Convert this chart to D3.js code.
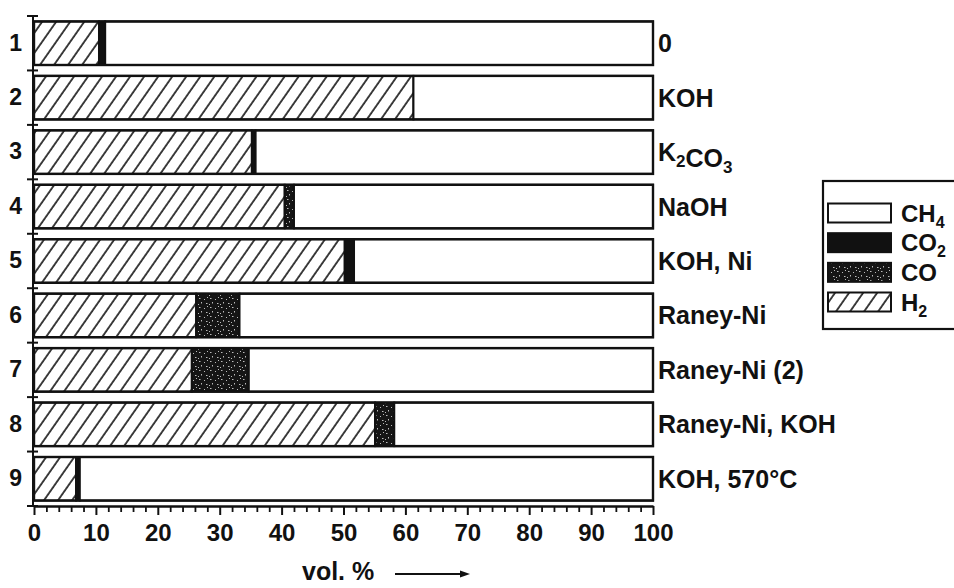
<!DOCTYPE html>
<html>
<head>
<meta charset="utf-8">
<script src="https://cdn.jsdelivr.net/npm/d3@7"></script>
<style>
  html, body { margin: 0; padding: 0; background: #fff; }
  svg { display: block; font-family: "Liberation Sans", Arial, Helvetica, sans-serif; }
</style>
</head>
<body>
<svg id="chart" width="954" height="588"></svg>
<script>
// Experiment numbers (rows, top to bottom)
const categories = ["1", "2", "3", "4", "5", "6", "7", "8", "9"];
// Additive / catalyst used in each run ("_" marks a subscript digit)
const conditions = ["0", "KOH", "K_2CO_3", "NaOH", "KOH, Ni", "Raney-Ni", "Raney-Ni (2)", "Raney-Ni, KOH", "KOH, 570°C"];

// Gas composition, vol. %
const h2  = [10.5, 61.3, 35.2, 40.5, 50.2, 26.2, 25.5, 55.1, 6.8];
const co  = [0.0, 0.0, 0.0, 1.5, 0.0, 7.0, 9.2, 3.1, 0.0];
const co2 = [1.0, 0.0, 0.6, 0.0, 1.5, 0.0, 0.0, 0.0, 0.6];
const ch4 = [88.5, 38.7, 64.2, 58.0, 48.3, 66.8, 65.3, 41.8, 92.6];

// Axis ticks
const majorTicks = [0, 10, 20, 30, 40, 50, 60, 70, 80, 90, 100];
const minorTicks = [2, 4, 6, 8, 12, 14, 16, 18, 22, 24, 26, 28, 32, 34, 36, 38, 42, 44, 46, 48,
                    52, 54, 56, 58, 62, 64, 66, 68, 72, 74, 76, 78, 82, 84, 86, 88, 92, 94, 96, 98];

// Series in stacking order (left to right); legend lists them in reverse
const seriesKeys = ["H2", "CO", "CO2", "CH4"];
const seriesValues = { H2: h2, CO: co, CO2: co2, CH4: ch4 };
const legendLabels = { CH4: ["CH", "4"], CO2: ["CO", "2"], CO: ["CO", ""], H2: ["H", "2"] };

const svg = d3.select("#chart");

// ---- fills: hatch for H2, speckled dark for CO ----
const defs = svg.append("defs");
const hatch = defs.append("pattern")
  .attr("id", "hatch")
  .attr("patternUnits", "userSpaceOnUse")
  .attr("width", 11.5).attr("height", 20)
  .attr("patternTransform", "rotate(35)");
hatch.append("rect").attr("width", 11.5).attr("height", 20).attr("fill", "#fff");
hatch.append("line").attr("x1", 1).attr("y1", 0).attr("x2", 1).attr("y2", 20)
  .attr("stroke", "#111").attr("stroke-width", 1.6);

const speck = defs.append("pattern")
  .attr("id", "speck")
  .attr("patternUnits", "userSpaceOnUse")
  .attr("width", 11).attr("height", 9);
speck.append("rect").attr("width", 11).attr("height", 9).attr("fill", "#151515");
[[1, 1, 1.5, 1], [6, 2, 1, 1], [3, 5, 1, 1.5], [8, 6, 1.5, 1], [0, 7, 1, 1], [9, 0, 1, 1]]
  .forEach(([sx, sy, sw, sh]) => {
    speck.append("rect").attr("x", sx).attr("y", sy).attr("width", sw).attr("height", sh).attr("fill", "#bbb");
  });

const fills = { H2: "url(#hatch)", CO: "url(#speck)", CO2: "#111", CH4: "#fff" };

// ---- scales ----
const x = d3.scaleLinear().domain([0, 100]).range([34, 653]);
const y = d3.scaleBand().domain(categories).range([16, 506]).paddingInner(0.2).paddingOuter(0.1);

// ---- stacked bars ----
const rows = categories.map((c, i) => {
  const r = { cat: c };
  seriesKeys.forEach(k => { r[k] = seriesValues[k][i]; });
  return r;
});
const stacked = d3.stack().keys(seriesKeys)(rows);

const barG = svg.append("g");
stacked.forEach(layer => {
  barG.append("g").selectAll("rect")
    .data(layer.filter(d => d[1] - d[0] > 0))
    .join("rect")
    .attr("x", d => x(d[0]))
    .attr("y", d => y(d.data.cat))
    .attr("width", d => x(d[1]) - x(d[0]))
    .attr("height", y.bandwidth())
    .attr("fill", fills[layer.key])
    .attr("stroke", "#111")
    .attr("stroke-width", 2);
});
// outer outline of each bar
barG.append("g").selectAll("rect")
  .data(categories)
  .join("rect")
  .attr("x", x(0))
  .attr("y", d => y(d))
  .attr("width", x(100) - x(0))
  .attr("height", y.bandwidth())
  .attr("fill", "none")
  .attr("stroke", "#111")
  .attr("stroke-width", 2.4);

// ---- left axis: row numbers, with ticks at band boundaries ----
const yAxis = svg.append("g")
  .attr("transform", `translate(${x(0) - 1},0)`)
  .call(d3.axisLeft(y).tickSize(0).tickPadding(11));
yAxis.select(".domain").remove();
yAxis.selectAll("text")
  .attr("font-size", 23).attr("font-weight", "bold").attr("fill", "#111")
  .attr("font-family", "Liberation Sans, Arial, sans-serif");

const halfGap = y.step() * y.paddingInner() / 2;
const boundaries = categories.map(c => y(c) - halfGap).concat([y(categories[categories.length - 1]) + y.bandwidth() + halfGap]);
svg.append("line")
  .attr("x1", x(0) - 1).attr("x2", x(0) - 1)
  .attr("y1", boundaries[0]).attr("y2", boundaries[boundaries.length - 1])
  .attr("stroke", "#111").attr("stroke-width", 2);
svg.append("g").selectAll("line")
  .data(boundaries)
  .join("line")
  .attr("x1", x(0) - 7).attr("x2", x(0) + 4)
  .attr("y1", d => d).attr("y2", d => d)
  .attr("stroke", "#111").attr("stroke-width", 2);

// ---- bottom axis ----
const axisY = boundaries[boundaries.length - 1];
const xMinor = svg.append("g")
  .attr("transform", `translate(0,${axisY})`)
  .call(d3.axisBottom(x).tickValues(minorTicks).tickSize(6).tickFormat(""));
xMinor.select(".domain").remove();
xMinor.selectAll("line").attr("stroke", "#111").attr("stroke-width", 1.8);

const xAxis = svg.append("g")
  .attr("transform", `translate(0,${axisY})`)
  .call(d3.axisBottom(x).tickValues(majorTicks).tickSize(9).tickSizeOuter(0));
xAxis.select(".domain").attr("stroke", "#111").attr("stroke-width", 2.4);
xAxis.selectAll(".tick line").attr("stroke", "#111").attr("stroke-width", 2);
xAxis.selectAll("text")
  .attr("y", 18)
  .attr("font-size", 24).attr("font-weight", "bold").attr("fill", "#111")
  .attr("font-family", "Liberation Sans, Arial, sans-serif");

// axis title with arrow
svg.append("text")
  .attr("x", 302).attr("y", 580)
  .attr("font-size", 25).attr("font-weight", "bold").attr("fill", "#111")
  .text("vol. %");
svg.append("line")
  .attr("x1", 395).attr("x2", 462).attr("y1", 574).attr("y2", 574)
  .attr("stroke", "#111").attr("stroke-width", 1.8);
svg.append("path")
  .attr("d", "M470,574 L460,570.5 L460,577.5 Z")
  .attr("fill", "#111");

// ---- helper for labels with subscripts ----
function richText(sel, str, subSize) {
  const parts = str.split(/(_\d)/).filter(p => p.length);
  parts.forEach(p => {
    if (p.startsWith("_")) {
      sel.append("tspan").attr("font-size", subSize).attr("dy", 6).text(p.slice(1));
      sel.append("tspan").attr("dy", -6).text("");
    } else {
      sel.append("tspan").text(p);
    }
  });
}

// ---- right-hand condition labels ----
svg.append("g").selectAll("text")
  .data(categories)
  .join("text")
  .attr("x", x(100) + 5)
  .attr("y", d => y(d) + y.bandwidth() / 2)
  .attr("dy", "0.36em")
  .attr("font-size", 25).attr("font-weight", "bold").attr("fill", "#111")
  .each(function(d, i) { richText(d3.select(this), conditions[i], 17); });

// ---- legend ----
const legendKeys = seriesKeys.slice().reverse();
const lg = svg.append("g");
lg.append("rect")
  .attr("x", 823).attr("y", 181).attr("width", 160).attr("height", 148)
  .attr("fill", "#fff").attr("stroke", "#111").attr("stroke-width", 2.2);
const ly = d3.scalePoint().domain(legendKeys).range([213, 302]);
legendKeys.forEach(k => {
  lg.append("rect")
    .attr("x", 828).attr("y", ly(k) - 9.5).attr("width", 63).attr("height", 19)
    .attr("fill", fills[k]).attr("stroke", "#111").attr("stroke-width", 2);
  const t = lg.append("text")
    .attr("x", 901).attr("y", ly(k)).attr("dy", "0.36em")
    .attr("font-size", 24).attr("font-weight", "bold").attr("fill", "#111");
  t.append("tspan").text(legendLabels[k][0]);
  if (legendLabels[k][1]) {
    t.append("tspan").attr("font-size", 16).attr("dy", 6).text(legendLabels[k][1]);
  }
});
</script>
</body>
</html>
